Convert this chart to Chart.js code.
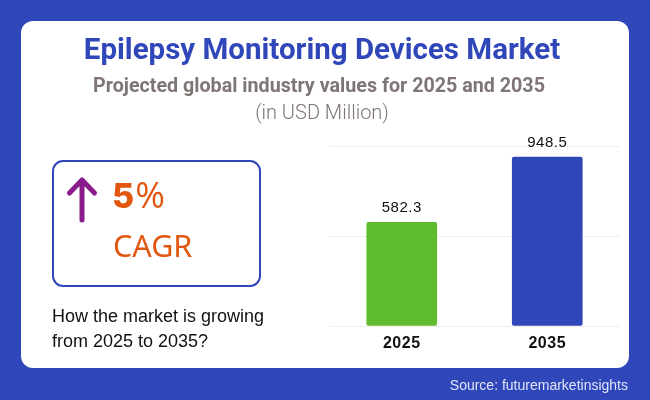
<!DOCTYPE html>
<html>
<head>
<meta charset="utf-8">
<script src="https://cdn.jsdelivr.net/npm/chart.js@4"></script>
<style>
  html, body { margin: 0; padding: 0; }
  body { width: 650px; height: 400px; background: #3047b9; position: relative; overflow: hidden; font-family: "Liberation Sans", sans-serif; }
  #card { position: absolute; left: 21px; top: 21px; width: 608px; height: 347px; background: #fff; border-radius: 12px; }
  #chartBox { position: absolute; left: 0; top: 0; width: 650px; height: 400px; }
  .txt { position: absolute; white-space: nowrap; }
  .center { width: 650px; text-align: center; }
  #title { left: -3px; top: 32px; font: 700 29.5px Roboto, sans-serif; color: #3047b9; }
  #subtitle { left: -6px; top: 74px; font: 700 19.7px Roboto, sans-serif; color: #7f7575; }
  #unit { left: -3px; top: 100px; font: 300 20px Roboto, sans-serif; color: #7f7575; }
  #cagrBox { position: absolute; left: 52px; top: 160px; width: 205px; height: 123px; border: 2px solid #3047b9; border-radius: 11px; }
  #arrow { position: absolute; left: 64px; top: 175px; width: 36px; height: 50px; }
  #pct { left: 112px; top: 175px; font: 500 36px/40px "Open Sans", sans-serif; color: #e2570f; }
  #pct b { font: 800 34px/40px Inter, sans-serif; margin-right: 1px; }
  #cagr { left: 113px; top: 224px; font: 400 30.5px "Noto Sans", sans-serif; color: #e2570f; }
  #question { left: 52px; top: 304px; font: 400 18px/25px "Liberation Sans", sans-serif; color: #111; }
  #source { right: 22px; top: 377px; font: 400 14px "Liberation Sans", sans-serif; color: #dfe4fb; }
</style>
</head>
<body>
<div id="card"></div>
<div id="chartBox"><canvas id="marketChart"></canvas></div>
<div id="title" class="txt center">Epilepsy Monitoring Devices Market</div>
<div id="subtitle" class="txt center">Projected global industry values for 2025 and 2035</div>
<div id="unit" class="txt center">(in USD Million)</div>
<div id="cagrBox"></div>
<svg id="arrow" viewBox="0 0 36 50">
  <path d="M18 45 V5 M5.5 18 L18 5 L30.5 18" fill="none" stroke="#8a1d8c" stroke-width="5" stroke-linecap="round" stroke-linejoin="round"/>
</svg>
<div id="pct" class="txt"><b>5</b>%</div>
<div id="cagr" class="txt">CAGR</div>
<div id="question" class="txt">How the market is growing<br>from 2025 to 2035?</div>
<div id="source" class="txt">Source: futuremarketinsights</div>
<script>
const years = ['2025', '2035'];
const marketValues = [582.3, 948.5];
const barColors = ['#5fbb2e', '#3047b9'];
const yTicks = [0, 505, 1010];

// 文字間隔と棒の上の値ラベル
const valueLabels = {
    id: 'valueLabels',
    beforeDraw(chart) {
        chart.ctx.letterSpacing = '0.5px';
    },
    afterDatasetsDraw(chart) {
        const ctx = chart.ctx;
        const bars = chart.getDatasetMeta(0).data;
        ctx.save();
        ctx.font = '400 15px "Liberation Sans", sans-serif';
        ctx.fillStyle = '#111';
        ctx.textAlign = 'center';
        ctx.textBaseline = 'bottom';
        bars.forEach((bar, i) => {
            ctx.fillText(marketValues[i].toFixed(1), bar.x, bar.y - 7);
        });
        ctx.restore();
    }
};

new Chart(document.getElementById('marketChart'), {
    type: 'bar',
    data: {
        labels: years,
        datasets: [{
            data: marketValues,
            backgroundColor: barColors,
            barThickness: 70,
            borderRadius: 2,
            borderSkipped: false
        }]
    },
    options: {
        responsive: true,
        maintainAspectRatio: false,
        animation: false,
        layout: { padding: { left: 329, right: 30, top: 146, bottom: 0 } },
        plugins: { legend: { display: false }, tooltip: { enabled: false } },
        scales: {
            x: {
                grid: { display: false },
                border: { display: false },
                afterFit(scale) { scale.height = 74; },
                ticks: {
                    color: '#111',
                    padding: 0,
                    font: { family: '"Liberation Sans", sans-serif', size: 16, weight: 'bold' }
                }
            },
            y: {
                min: 0,
                max: 1010,
                afterBuildTicks(scale) { scale.ticks = yTicks.map(v => ({ value: v })); },
                afterFit(scale) { scale.width = 0; },
                ticks: { display: false },
                border: { display: false },
                grid: { color: '#f5ecec', lineWidth: 1, drawTicks: false }
            }
        }
    },
    plugins: [valueLabels]
});
</script>
</body>
</html>
